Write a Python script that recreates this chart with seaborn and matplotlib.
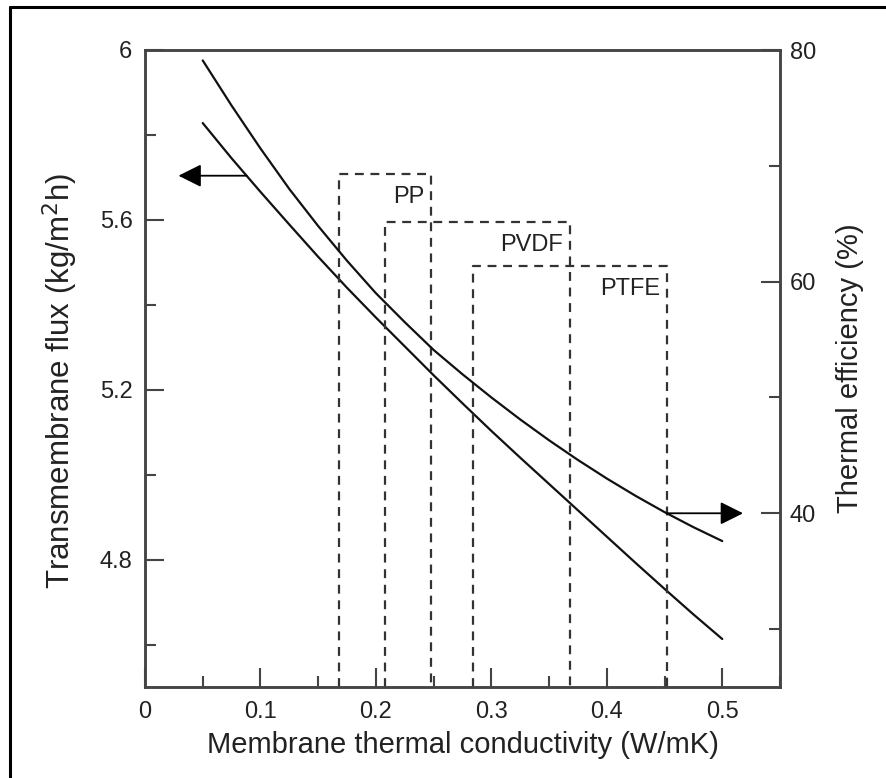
import matplotlib
matplotlib.use("Agg")
import matplotlib.pyplot as plt
from matplotlib.lines import Line2D
from matplotlib.ticker import MultipleLocator
import seaborn as sns
import pandas as pd

# membrane thermal conductivity (W/mK)
conductivity = [0.05, 0.075, 0.1, 0.125, 0.15, 0.175, 0.2, 0.225, 0.25, 0.275,
                0.3, 0.325, 0.35, 0.375, 0.4, 0.425, 0.45, 0.475, 0.5]
# transmembrane flux (kg/m2h), left axis
flux = [5.828, 5.745, 5.666, 5.589, 5.513, 5.440, 5.370, 5.302, 5.234, 5.168,
        5.103, 5.040, 4.978, 4.916, 4.854, 4.792, 4.731, 4.671, 4.613]
# thermal efficiency (%), right axis
efficiency = [79.1, 75.2, 71.5, 68.0, 64.8, 61.8, 59.0, 56.5, 54.1, 52.0,
              50.0, 48.1, 46.3, 44.6, 43.0, 41.5, 40.1, 38.8, 37.6]

# conductivity ranges of membrane materials (drawn as open dashed boxes)
materials = ["PP", "PVDF", "PTFE"]
range_lo = [0.168, 0.208, 0.284]
range_hi = [0.248, 0.368, 0.452]
box_top = [5.708, 5.596, 5.492]

df = pd.DataFrame({"k": conductivity, "flux": flux, "eff": efficiency})

sns.set_style("ticks")
plt.rcParams['font.family'] = ['Liberation Sans', 'DejaVu Sans']

fig = plt.figure(figsize=(8.87, 7.78), dpi=100)
ax = fig.add_axes([145/887, 1-687/778, 635/887, 637/778])
ax2 = ax.twinx()

sns.lineplot(data=df, x="k", y="flux", ax=ax, color="#111111", lw=1.6)
sns.lineplot(data=df, x="k", y="eff", ax=ax2, color="#111111", lw=1.6)

ax.set_xlim(0, 0.55)
ax.set_ylim(4.5, 6.0)
ax2.set_ylim(25, 80)

for lo, hi, top, name in zip(range_lo, range_hi, box_top, materials):
    ax.plot([lo, lo, hi, hi], [4.5, top, top, 4.5],
            color="#333333", lw=1.6, ls=(0, (4, 3)))
    ax.text(hi - 0.006, top - 0.055, name, ha="right", va="center",
            fontsize=17, color="#222222")

ax.annotate("", xy=(0.029, 5.704), xytext=(0.088, 5.704),
            arrowprops=dict(arrowstyle="-|>,head_length=1.4,head_width=0.7",
                            color="black", lw=1.3, shrinkA=0, shrinkB=0))
ax2.annotate("", xy=(0.518, 40.0), xytext=(0.452, 40.0),
             arrowprops=dict(arrowstyle="-|>,head_length=1.4,head_width=0.7",
                             color="black", lw=1.3, shrinkA=0, shrinkB=0))

ax.xaxis.set_minor_locator(MultipleLocator(0.05))
ax.yaxis.set_minor_locator(MultipleLocator(0.2))
ax2.yaxis.set_major_locator(MultipleLocator(20))
ax2.yaxis.set_minor_locator(MultipleLocator(10))
ax.set_xticks([0, 0.1, 0.2, 0.3, 0.4, 0.5])
ax.set_xticklabels(["0", "0.1", "0.2", "0.3", "0.4", "0.5"])
ax.set_yticks([4.8, 5.2, 5.6, 6.0])
ax.set_yticklabels(["4.8", "5.2", "5.6", "6"])

spine_col = "#444444"
for a in (ax, ax2):
    for s in a.spines.values():
        s.set_color(spine_col)
        s.set_linewidth(1.8)
    a.tick_params(which="major", direction="in", length=14, width=1.5,
                  colors=spine_col, labelcolor="#222222", labelsize=17, pad=9)
    a.tick_params(which="minor", direction="in", length=8, width=1.5,
                  colors=spine_col)
ax2.tick_params(axis="y", which="major", pad=7)
ax.tick_params(axis="x", which="major", pad=10)

ax.set_xlabel("Membrane thermal conductivity (W/mK)", fontsize=21,
              color="#222222", labelpad=6)
ax.set_ylabel("Transmembrane flux (kg/m$^2$h)", fontsize=22.5,
              color="#222222")
ax.yaxis.set_label_coords(-0.103, 0.48)
ax2.set_ylabel("Thermal efficiency (%)", fontsize=21, color="#222222",
               labelpad=14)

# frame of the original figure (left and top edges visible)
fig.add_artist(Line2D([10/887, 10/887], [0, 1-7/778], transform=fig.transFigure,
                      color="black", lw=2.2))
fig.add_artist(Line2D([10/887, 1], [1-7/778, 1-7/778], transform=fig.transFigure,
                      color="black", lw=2.2))

fig.savefig("out.png", dpi=100)
